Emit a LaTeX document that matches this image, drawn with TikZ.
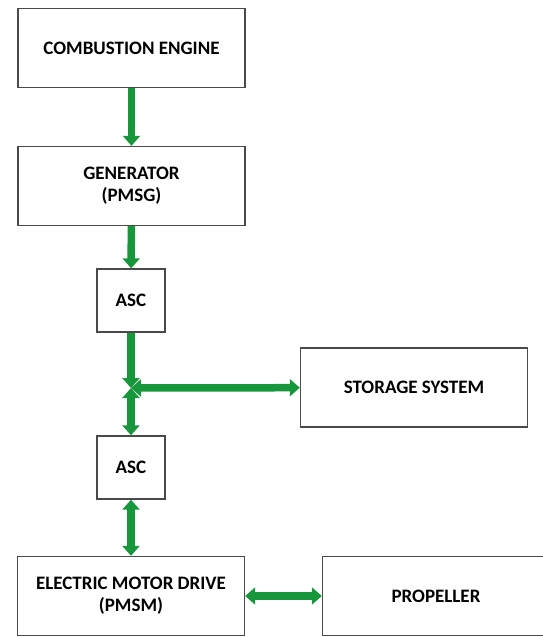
\documentclass[tikz,border=0pt]{standalone}
\usepackage{fontspec}
\setmainfont{Carlito}
\usetikzlibrary{arrows.meta, positioning, calc}
\definecolor{flowgreen}{HTML}{17963C}
\definecolor{boxline}{HTML}{4A4A4A}
\tikzset{
  blockbox/.style = {draw=boxline, line width=1.4pt, fill=white, align=center,
                     font=\fontsize{19}{22}\selectfont\bfseries,
                     minimum width=227pt, minimum height=79pt, inner sep=0pt},
  ascbox/.style   = {blockbox, minimum width=68pt, minimum height=63pt},
  power/.style    = {-{Triangle[width=17pt,length=10pt]}, line width=7.5pt, draw=flowgreen},
  bipower/.style  = {{Triangle[width=17pt,length=10pt]}-{Triangle[width=17pt,length=10pt]},
                     line width=7.5pt, draw=flowgreen},
}
\begin{document}
\begin{tikzpicture}[x=1pt, y=-1pt]
  \useasboundingbox (0,0) rectangle (543,637);
  \clip (0,0) rectangle (543,637);
  % blocks
  \node[blockbox] (engine)  at (131.5,48)  {COMBUSTION ENGINE};
  \node[blockbox] (gen)     at (131.5,186) {GENERATOR\\(PMSG)};
  \node[ascbox]   (asc1)    at (131,300.5) {ASC};
  \node[blockbox] (storage) at (414,387.5) {STORAGE SYSTEM};
  \node[ascbox]   (asc2)    at (131,467.5) {ASC};
  \node[blockbox] (emd)     at (131,596)   {ELECTRIC MOTOR DRIVE\\(PMSM)};
  \node[blockbox] (prop)    at (436,596)   {PROPELLER};
  \coordinate (junc) at (131,388);
  % power flow
  \draw[power]   (engine) -- (gen);
  \draw[power]   (gen) -- (asc1);
  \draw[power]   (asc1) -- (junc);
  \draw[bipower] (junc) -- (storage);
  \draw[bipower] (junc) -- (asc2);
  \draw[bipower] (asc2) -- (emd);
  \draw[bipower] (emd) -- (prop);
\end{tikzpicture}
\end{document}
